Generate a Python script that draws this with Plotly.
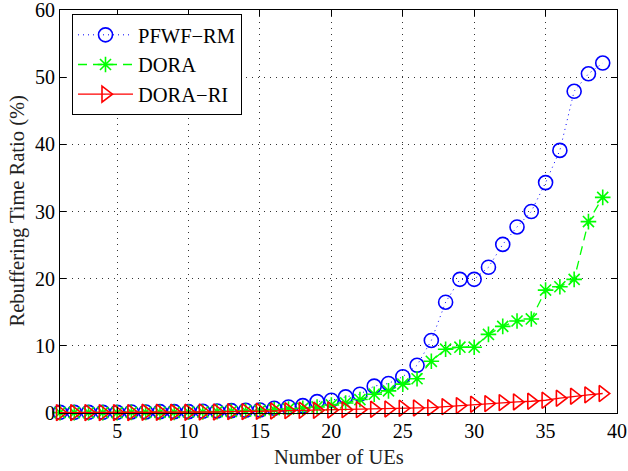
import plotly.graph_objects as go

# Number of UEs in the cell
num_ues = list(range(1, 40))

# Rebuffering time ratio (%) per scheme
pfwf_rm = [0.1, 0.1, 0.1, 0.1, 0.1, 0.15, 0.15, 0.2, 0.2, 0.2,
           0.25, 0.3, 0.35, 0.4, 0.45, 0.7, 0.9, 1.1, 1.7, 1.9,
           2.4, 2.8, 4.0, 4.4, 5.4, 7.1, 10.8, 16.5, 19.9, 19.9,
           21.7, 25.1, 27.7, 30.0, 34.3, 39.1, 47.9, 50.5, 52.1]
dora = [0.05, 0.05, 0.05, 0.05, 0.05, 0.1, 0.1, 0.1, 0.1, 0.15,
        0.15, 0.2, 0.25, 0.3, 0.35, 0.5, 0.6, 0.7, 0.9, 1.2,
        1.5, 2.0, 2.8, 3.3, 4.3, 5.1, 7.7, 9.5, 9.8, 9.8,
        11.7, 12.9, 13.7, 14.0, 18.3, 18.8, 19.9, 28.5, 32.1]
dora_ri = [0.05, 0.05, 0.05, 0.05, 0.05, 0.05, 0.1, 0.1, 0.1, 0.1,
           0.15, 0.15, 0.2, 0.2, 0.25, 0.3, 0.35, 0.4, 0.4, 0.45,
           0.5, 0.5, 0.55, 0.6, 0.7, 0.75, 0.8, 0.95, 1.1, 1.3,
           1.4, 1.55, 1.65, 1.75, 1.9, 2.2, 2.5, 2.7, 2.9]

x_ticks = [5, 10, 15, 20, 25, 30, 35, 40]
y_ticks = [0, 10, 20, 30, 40, 50, 60]

FONT = "Liberation Serif"
W, H = 628, 471
ML, MR, MT, MB = 60, 11, 10, 58
PW, PH = W - ML - MR, H - MT - MB

fig = go.Figure()
fig.add_trace(go.Scatter(
    x=num_ues, y=pfwf_rm, name="PFWF\u2212RM", mode="lines+markers",
    line=dict(color="#0000ff", width=1, dash="1px,4px"),
    marker=dict(symbol="circle-open", size=14, color="#0000ff",
                line=dict(width=1.6, color="#0000ff")),
    cliponaxis=False,
))
fig.add_trace(go.Scatter(
    x=num_ues, y=dora, name="DORA", mode="lines+markers",
    line=dict(color="#00ff00", width=1.3, dash="9px,6px"),
    marker=dict(symbol="asterisk-open", size=13, color="#00ff00",
                line=dict(width=1.6, color="#00ff00")),
    cliponaxis=False,
))
fig.add_trace(go.Scatter(
    x=num_ues, y=dora_ri, name="DORA\u2212RI", mode="lines+markers",
    line=dict(color="#ff0000", width=1.3),
    marker=dict(symbol="triangle-right-open", size=14, color="#ff0000",
                line=dict(width=1.6, color="#ff0000")),
    cliponaxis=False,
))

axis_common = dict(
    showline=True, linecolor="black", linewidth=1, mirror="ticks",
    ticks="inside", ticklen=6, tickcolor="black",
    showgrid=True, gridcolor="#333333", griddash="1px,5px", gridwidth=1,
    zeroline=False, automargin=False, ticklabeloverflow="allow",
    tickfont=dict(family=FONT, size=20, color="black"),
)

fig.update_xaxes(range=[1, 40], tickvals=x_ticks, **axis_common)
fig.update_yaxes(range=[0, 60], tickvals=y_ticks, **axis_common)

# Axis titles placed as paper annotations
title_font = dict(family=FONT, size=20.5, color="#222")
fig.add_annotation(
    text="Number of UEs", xref="paper", yref="paper",
    x=0.5, y=-(457 - (MT + PH)) / PH, xanchor="center", yanchor="middle",
    showarrow=False, font=title_font,
)
fig.add_annotation(
    text="Rebuffering Time Ratio (%)", xref="paper", yref="paper",
    x=-(ML - 17) / PW, y=0.5, xanchor="center", yanchor="middle",
    textangle=-90, showarrow=False, font=title_font,
)

fig.update_layout(
    width=W, height=H,
    margin=dict(l=ML, r=MR, t=MT, b=MB),
    paper_bgcolor="white", plot_bgcolor="white",
    font=dict(family=FONT, color="black"),
    legend=dict(
        x=(72 - ML) / PW, y=1 - (14 - MT) / PH, xanchor="left", yanchor="top",
        bgcolor="white", bordercolor="black", borderwidth=1,
        font=dict(family=FONT, size=20.5, color="black"),
        itemwidth=55, tracegroupgap=0,
    ),
    showlegend=True,
)

fig.write_html("out.html")
